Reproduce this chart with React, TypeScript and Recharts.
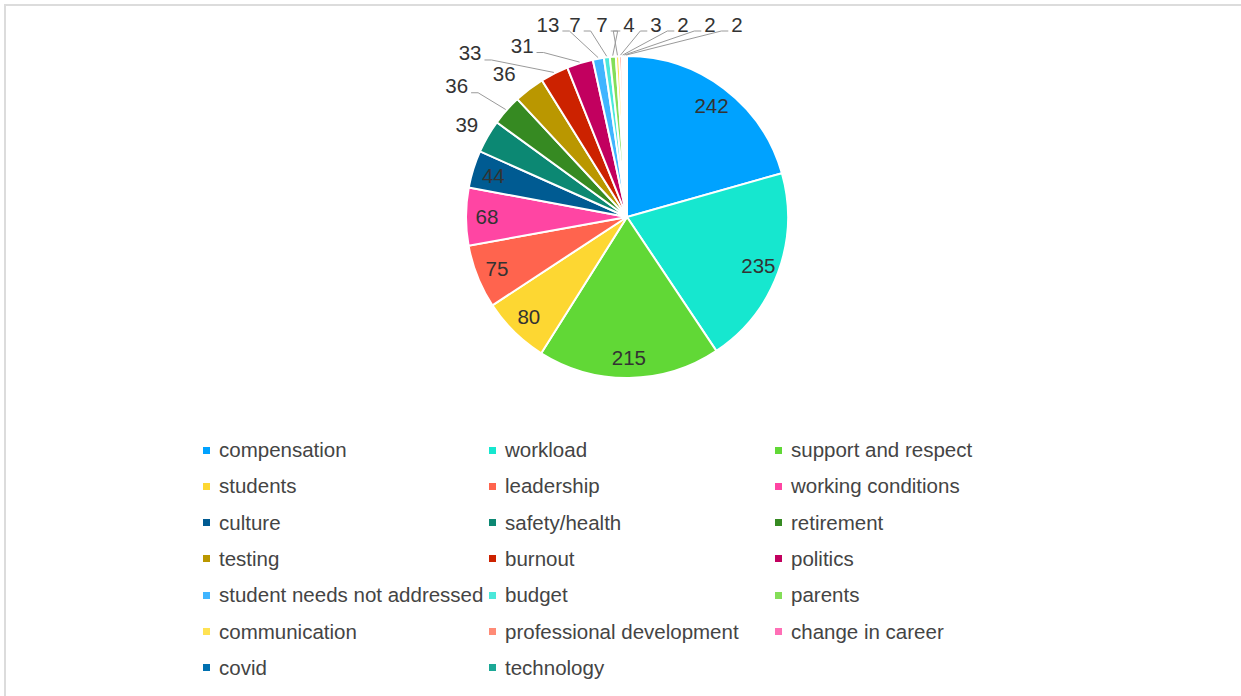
import React from "react";
import { PieChart, Pie, Cell } from "recharts";

const categories = [
  "compensation",
  "workload",
  "support and respect",
  "students",
  "leadership",
  "working conditions",
  "culture",
  "safety/health",
  "retirement",
  "testing",
  "burnout",
  "politics",
  "student needs not addressed",
  "budget",
  "parents",
  "communication",
  "professional development",
  "change in career",
  "covid",
  "technology",
];

const values = [242, 235, 215, 80, 75, 68, 44, 39, 36, 36, 33, 31, 13, 7, 7, 4, 3, 2, 2, 2];

const colors = [
  "#00A2FF",
  "#16E7CF",
  "#61D836",
  "#FDD732",
  "#FF644E",
  "#FF45A3",
  "#005B92",
  "#0C8873",
  "#368A22",
  "#BA9700",
  "#CC2200",
  "#C2005F",
  "#40B5FF",
  "#4BE8DA",
  "#84DE58",
  "#FFE253",
  "#FF8B76",
  "#FF6FB6",
  "#0070B0",
  "#1BA896",
];

const data = categories.map((name, i) => ({ name, value: values[i] }));

const FONT = "'Liberation Sans', Arial, Helvetica, sans-serif";
const RAD = Math.PI / 180;
const INSIDE_MIN = 40;
const TINY_MAX = 13;
const outsideStart = values.findIndex((v) => v < INSIDE_MIN);
const tinyStart = values.findIndex((v) => v <= TINY_MAX);

const renderLabel = (props: any) => {
  const { cx, cy, midAngle, outerRadius, value, index } = props;
  const clock = (((90 - midAngle) % 360) + 360) % 360;
  const polar = (R: number, a: number) => ({
    x: cx + R * Math.sin(a * RAD),
    y: cy - R * Math.cos(a * RAD),
  });
  if (value >= INSIDE_MIN) {
    const p = polar(outerRadius * 0.87, clock);
    return (
      <text
        x={p.x}
        y={p.y}
        textAnchor="middle"
        dominantBaseline="central"
        fontSize={20.5}
        fontFamily={FONT}
        fill="#333"
      >
        {value}
      </text>
    );
  }
  const k = index - outsideStart;
  const w = String(value).length * 11.4;
  let lx: number;
  let ly: number;
  if (value > TINY_MAX) {
    const odd = k % 2 === 1;
    const over = Math.max(0, clock - 305);
    const R = odd ? outerRadius + 48 + k * 6 : outerRadius + 24 + k * k;
    const shift = odd ? over * 0.6 : over * over * 0.01;
    const p = polar(R, clock - shift);
    lx = p.x;
    ly = p.y;
  } else {
    const j = index - tinyStart;
    ly = cy - outerRadius - 32;
    lx = cx - 79 + j * 27;
  }
  const edge = polar(outerRadius + 1, clock);
  const leftOf = lx < edge.x;
  const endX = leftOf ? lx + w / 2 + 3 : lx - w / 2 - 3;
  const endY = ly + 7;
  const elbowX = leftOf ? endX + 7 : endX - 7;
  const dist = Math.hypot(edge.x - endX, edge.y - endY);
  return (
    <g>
      {dist > 18 && (
        <polyline
          points={`${edge.x},${edge.y} ${elbowX},${endY} ${endX},${endY}`}
          fill="none"
          stroke="#9a9a9a"
          strokeWidth={1}
        />
      )}
      <text
        x={lx}
        y={ly}
        textAnchor="middle"
        dominantBaseline="central"
        fontSize={20.5}
        fontFamily={FONT}
        fill="#333"
      >
        {value}
      </text>
    </g>
  );
};

export default function App() {
  const colLeft = [203, 489, 775];
  return (
    <div
      style={{
        position: "absolute",
        left: 0,
        top: 0,
        width: 1241,
        height: 696,
        background: "#fff",
        overflow: "hidden",
      }}
    >
      <div
        style={{
          position: "absolute",
          left: 4,
          top: 4,
          width: 1237,
          height: 692,
          borderTop: "2px solid #dcdcdc",
          borderLeft: "2px solid #dcdcdc",
          boxSizing: "border-box",
        }}
      />
      <div style={{ position: "absolute", left: 0, top: 0 }}>
        <PieChart
          width={1241}
          height={420}
          margin={{ top: 0, right: 0, bottom: 0, left: 0 }}
        >
          <Pie
            data={data}
            dataKey="value"
            nameKey="name"
            cx={627}
            cy={217}
            outerRadius={161}
            startAngle={90}
            endAngle={-270}
            stroke="#ffffff"
            strokeWidth={2}
            label={renderLabel}
            labelLine={false}
            isAnimationActive={false}
          >
            {data.map((d, i) => (
              <Cell key={d.name} fill={colors[i]} />
            ))}
          </Pie>
        </PieChart>
      </div>
      {categories.map((name, i) => {
        const col = i % 3;
        const row = Math.floor(i / 3);
        const yc = 450 + row * 36.3;
        return (
          <div
            key={name}
            style={{
              position: "absolute",
              left: colLeft[col],
              top: yc - 13,
              height: 26,
              display: "flex",
              alignItems: "center",
              fontFamily: FONT,
              fontSize: 20.5,
              color: "#444",
              whiteSpace: "nowrap",
            }}
          >
            <span
              style={{
                display: "inline-block",
                width: 7,
                height: 7,
                background: colors[i],
                marginRight: 9,
              }}
            />
            <span>{name}</span>
          </div>
        );
      })}
    </div>
  );
}
